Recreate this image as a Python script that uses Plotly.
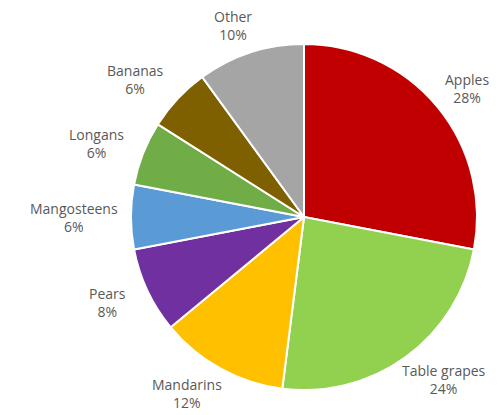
import math
import plotly.graph_objects as go

categories = ["Apples", "Table grapes", "Mandarins", "Pears", "Mangosteens", "Longans", "Bananas", "Other"]
values = [28, 24, 12, 8, 6, 6, 6, 10]
colors = ["#C00000", "#92D050", "#FFC000", "#7030A0", "#5B9BD5", "#70AD47", "#7F6000", "#A5A5A5"]

# page body adds an 8px offset; size the figure so it fits the 500x415 window
W, H = 492, 407
ML, MR, MT, MB = 123, 23, 36, 25
R = (W - ML - MR) / 2.0
CX = ML + R  # pie centre in figure pixels
RIGHT_LIMIT = 482 - CX  # keep labels inside the visible area

fig = go.Figure(go.Pie(
    labels=categories,
    values=values,
    sort=False,
    direction="clockwise",
    rotation=0,
    marker=dict(colors=colors, line=dict(color="white", width=2)),
    textinfo="none",
    hoverinfo="label+percent",
    showlegend=False,
))

total = sum(values)
cum = 0.0
annotations = []
for cat, v in zip(categories, values):
    mid = (cum + v / 2.0) / total * 2 * math.pi
    cum += v
    pct = round(100.0 * v / total)
    ux, uy = math.sin(mid), math.cos(mid)  # uy positive = up
    w = 7.6 * max(len(cat), len(f"{pct}%"))
    h = 26
    gap = 15
    spread = 24 * ux * abs(uy)
    dx = ux * (R + gap) + ux * w / 2.0 + spread
    dx = min(dx, RIGHT_LIMIT - w / 2.0)
    dy = uy * (R + gap) + uy * h / 2.0
    annotations.append(dict(
        x=0.5, y=0.5, xref="paper", yref="paper",
        xshift=dx, yshift=dy,
        xanchor="center", yanchor="middle",
        text=f"{cat}<br>{pct}%",
        showarrow=False,
        align="center",
        font=dict(family="Open Sans", size=14, color="#595959"),
    ))

fig.update_layout(
    width=W, height=H,
    margin=dict(l=ML, r=MR, t=MT, b=MB),
    paper_bgcolor="white",
    plot_bgcolor="white",
    annotations=annotations,
)

fig.write_html("out.html")
